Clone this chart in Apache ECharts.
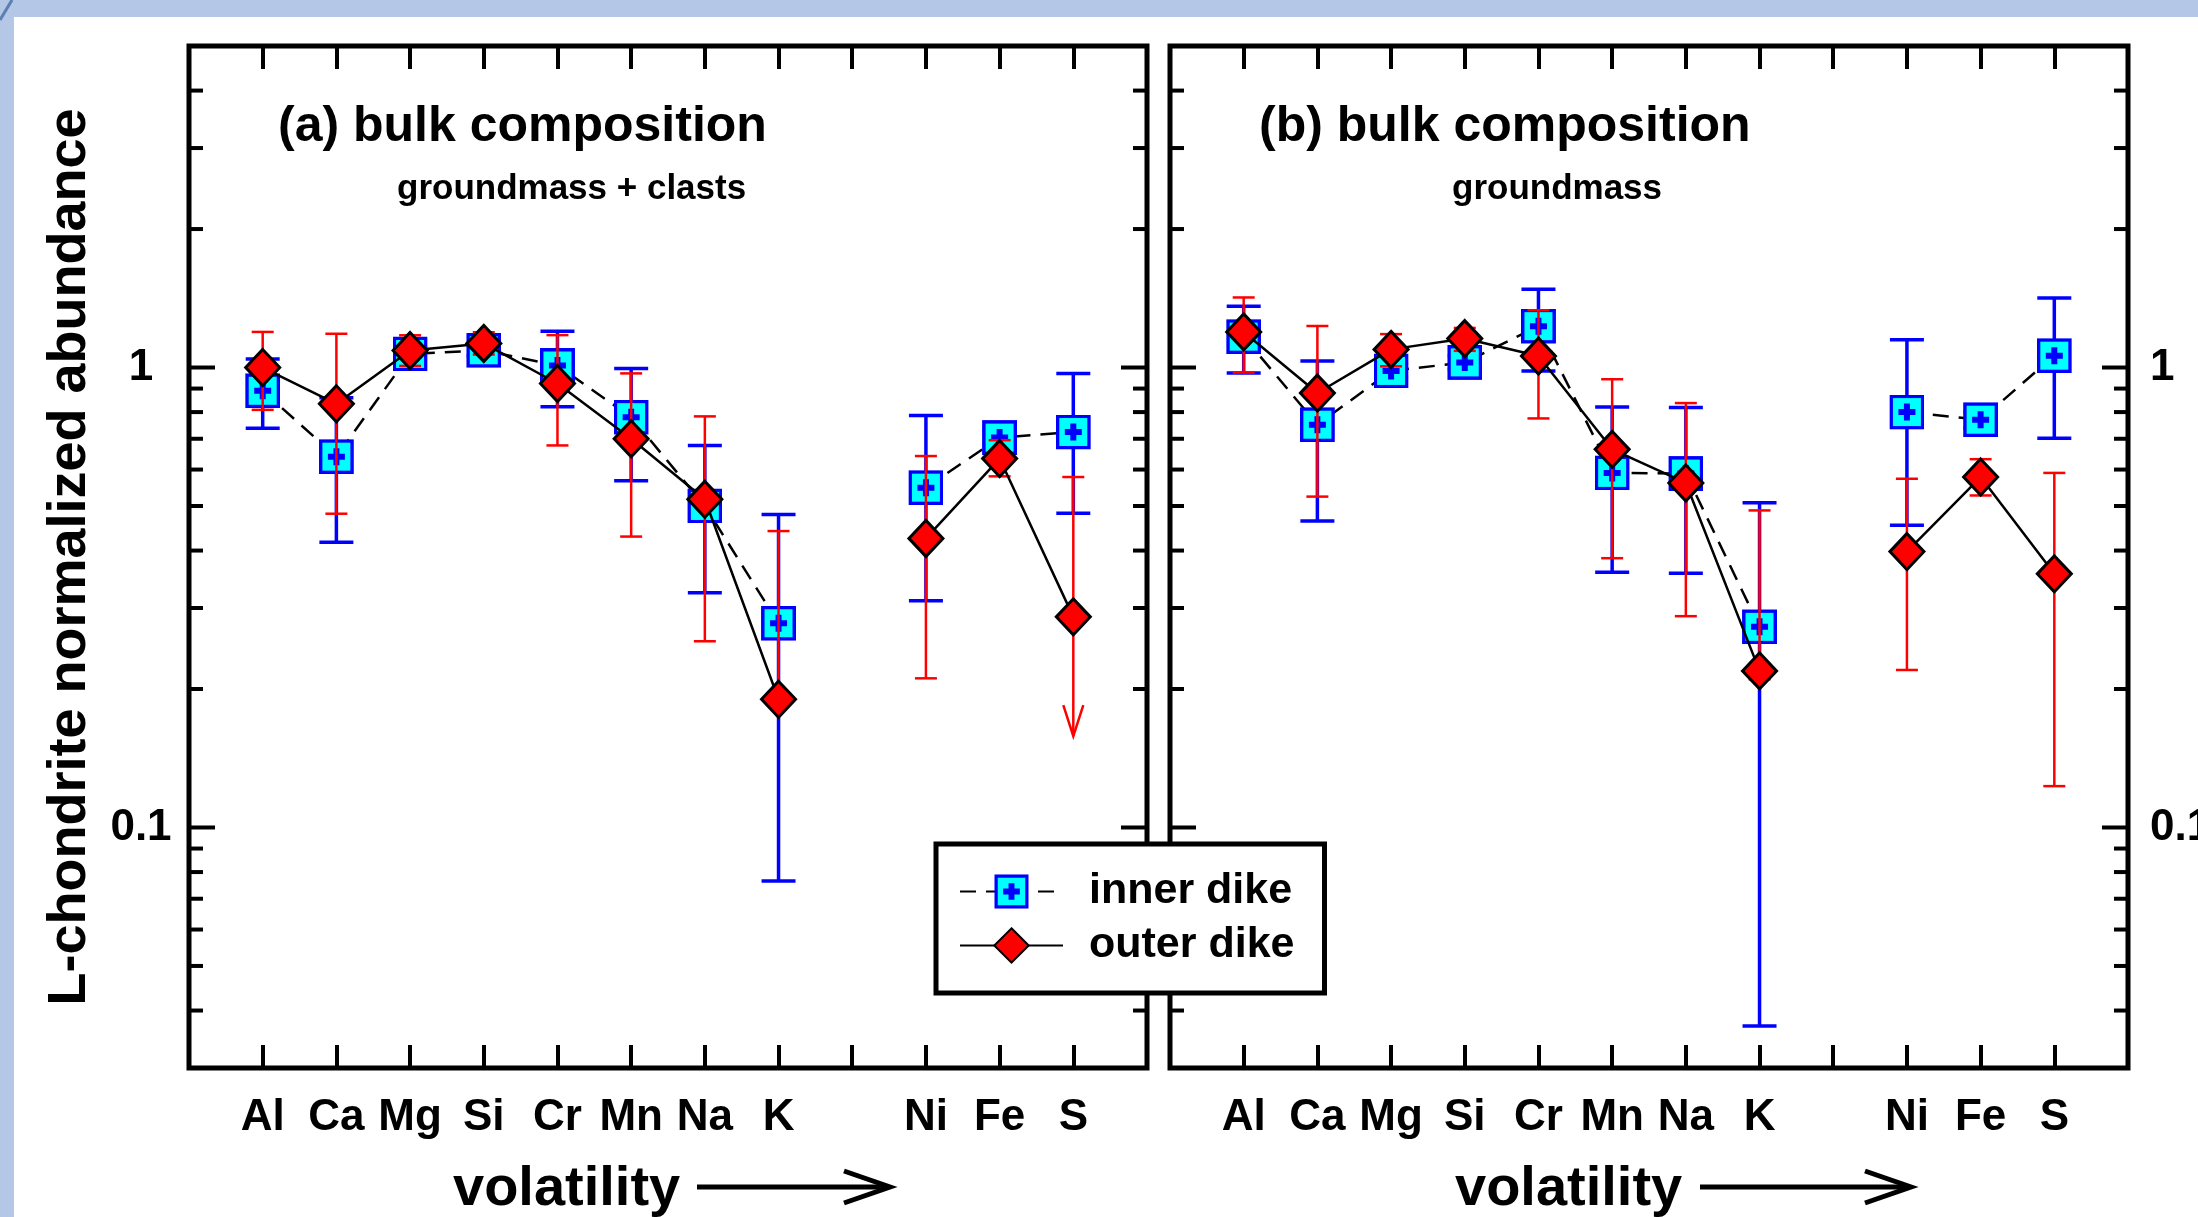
<!DOCTYPE html>
<html>
<head>
<meta charset="utf-8">
<title>L-chondrite normalized abundance</title>
<script src="https://cdn.jsdelivr.net/npm/echarts@6/dist/echarts.min.js"></script>
<style>
  html, body { margin: 0; padding: 0; background: #fff; }
  #chart { width: 2198px; height: 1217px; }
</style>
</head>
<body>
<div id="chart"></div>
<script>
// element slots along the volatility axis ('' = empty slot: edges and the gap before Ni)
var elements = ['', 'Al', 'Ca', 'Mg', 'Si', 'Cr', 'Mn', 'Na', 'K', '', 'Ni', 'Fe', 'S', ''];

// (a) groundmass + clasts
var innerA     = [null, 0.89,  0.64,  1.07, 1.09, 1.01,  0.78,  0.50,  0.278,  null, 0.548, 0.704, 0.724, null];
var innerALow  = [null, 0.738, 0.417, 1.04, 1.06, 0.822, 0.567, 0.324, 0.0765, null, 0.311, 0.68,  0.482, null];
var innerAHigh = [null, 1.043, 0.86,  1.11, 1.12, 1.199, 0.995, 0.677, 0.479,  null, 0.786, 0.73,  0.971, null];
var outerA     = [null, 1.0,   0.834, 1.089, 1.128, 0.923, 0.70,  0.517, 0.19,  null, 0.425, 0.634, 0.287, null];
var outerALow  = [null, 0.809, 0.481, 1.008, 1.067, 0.677, 0.429, 0.254, 0.185, null, 0.211, 0.58,  0.158, null];
var outerAHigh = [null, 1.195, 1.184, 1.175, 1.193, 1.176, 0.971, 0.783, 0.441, null, 0.642, 0.695, 0.578, null];
var outerAUpperLimit = ['S']; // drawn with an arrow instead of a lower cap

// (b) groundmass
var innerB     = [null, 1.167, 0.751, 0.983, 1.026, 1.23,  0.59,  0.588, 0.273, null, 0.80,  0.77, 1.061, null];
var innerBLow  = [null, 0.973, 0.464, 0.95,  0.99,  0.983, 0.359, 0.357, 0.037, null, 0.454, 0.74, 0.702, null];
var innerBHigh = [null, 1.359, 1.033, 1.02,  1.06,  1.48,  0.821, 0.819, 0.508, null, 1.149, 0.80, 1.416, null];
var outerB     = [null, 1.195, 0.88,  1.095, 1.156, 1.059, 0.664, 0.561, 0.219, null, 0.398, 0.578, 0.356, null];
var outerBLow  = [null, 0.975, 0.524, 1.006, 1.087, 0.775, 0.385, 0.288, 0.21,  null, 0.22,  0.527, 0.123, null];
var outerBHigh = [null, 1.42,  1.231, 1.182, 1.219, 1.332, 0.943, 0.837, 0.489, null, 0.573, 0.632, 0.59,  null];

var yMajorTicks = [0.1, 1];
var yMinorTicks = [0.04, 0.05, 0.06, 0.07, 0.08, 0.09, 0.2, 0.3, 0.4, 0.5, 0.6, 0.7, 0.8, 0.9, 2, 3, 4];

var fontFamily = 'Liberation Sans, Arial, Helvetica, sans-serif';

var squareSvg = "<svg xmlns='http://www.w3.org/2000/svg' width='70' height='70' viewBox='0 0 70 70'>" +
    "<rect x='3.5' y='3.5' width='63' height='63' fill='#00ffff' stroke='#0000ff' stroke-width='7'/>" +
    "<path d='M35 18V52M18 35H52' stroke='#0000ff' stroke-width='12'/></svg>";
var squareSymbol = 'image://data:image/svg+xml;base64,' + btoa(squareSvg);

function errorBarSeries(name, p, vals, lows, highs, limits, color, lineW, capW, z) {
    var data = [];
    for (var i = 0; i < elements.length; i++) {
        if (vals[i] == null) continue;
        data.push([i, lows[i], highs[i], limits.indexOf(elements[i]) >= 0 ? 1 : 0]);
    }
    return {
        type: 'custom',
        name: name,
        xAxisIndex: p * 2,
        yAxisIndex: p * 2,
        z: z,
        silent: true,
        dimensions: ['x', 'low', 'high', 'limit'],
        encode: { x: 0, y: [1, 2] },
        data: data,
        renderItem: function (params, api) {
            var hi = api.coord([api.value(0), api.value(2)]);
            var lo = api.coord([api.value(0), api.value(1)]);
            var st = { stroke: color, lineWidth: lineW, fill: null };
            var kids = [
                { type: 'line', shape: { x1: hi[0], y1: hi[1], x2: lo[0], y2: lo[1] }, style: st },
                { type: 'line', shape: { x1: hi[0] - capW / 2, y1: hi[1], x2: hi[0] + capW / 2, y2: hi[1] }, style: st }
            ];
            if (api.value(3)) {
                kids.push({ type: 'polyline', shape: { points: [[lo[0] - 10, lo[1] - 31], [lo[0], lo[1]], [lo[0] + 10, lo[1] - 31]] }, style: st });
            } else {
                kids.push({ type: 'line', shape: { x1: lo[0] - capW / 2, y1: lo[1], x2: lo[0] + capW / 2, y2: lo[1] }, style: st });
            }
            return { type: 'group', children: kids };
        }
    };
}

function yTickSeries(p) {
    var data = yMinorTicks.concat(yMajorTicks).map(function (v) { return [0, v]; });
    return {
        type: 'custom',
        xAxisIndex: p * 2,
        yAxisIndex: p * 2,
        z: 6,
        silent: true,
        clip: false,
        encode: { x: 0, y: 1 },
        data: data,
        renderItem: function (params, api) {
            var cs = params.coordSys;
            var v = api.value(1);
            var y = api.coord([0, v])[1];
            var len = yMajorTicks.indexOf(v) >= 0 ? 26 : 14;
            var st = { stroke: '#000', lineWidth: 4 };
            return {
                type: 'group',
                children: [
                    { type: 'line', shape: { x1: cs.x, y1: y, x2: cs.x + len, y2: y }, style: st },
                    { type: 'line', shape: { x1: cs.x + cs.width - len, y1: y, x2: cs.x + cs.width, y2: y }, style: st }
                ]
            };
        }
    };
}

function lineSeries(name, p, vals, inner) {
    var s = {
        type: 'line',
        name: name,
        xAxisIndex: p * 2,
        yAxisIndex: p * 2,
        data: vals,
        connectNulls: false,
        showAllSymbol: true,
        silent: true,
        emphasis: { disabled: true }
    };
    if (inner) {
        s.z = 3;
        s.symbol = squareSymbol;
        s.symbolSize = 35;
        s.lineStyle = { color: '#000', width: 2.5, type: [16, 10] };
        s.itemStyle = { color: '#00ffff' };
    } else {
        s.z = 5;
        s.symbol = 'diamond';
        s.symbolSize = [34, 36];
        s.lineStyle = { color: '#000', width: 2.5, type: 'solid' };
        s.itemStyle = { color: '#ff0000', borderColor: '#000', borderWidth: 3 };
    }
    return s;
}

function labelFormatter(v) {
    if (Math.abs(v - 1) < 1e-6) return '1';
    if (Math.abs(v - 0.1) < 1e-7) return '0.1';
    return '';
}

function yAxis(gridIndex, position, showLabel) {
    var ax = {
        type: 'log',
        logBase: 10,
        min: 0.03,
        max: 5,
        gridIndex: gridIndex,
        position: position,
        axisLine: { show: false },
        axisTick: { show: false },
        minorTick: { show: false },
        splitLine: { show: false },
        axisLabel: {
            show: showLabel,
            formatter: labelFormatter,
            fontSize: 44,
            fontWeight: 'bold',
            fontFamily: fontFamily,
            color: '#000',
            align: position === 'left' ? 'center' : 'left',
            margin: position === 'left' ? 48 : 22
        }
    };
    return ax;
}

function xAxis(gridIndex, position) {
    return {
        type: 'category',
        gridIndex: gridIndex,
        position: position,
        data: elements,
        boundaryGap: false,
        axisLine: { show: false },
        axisTick: { show: true, inside: true, length: 23, interval: 0, lineStyle: { color: '#000', width: 4 } },
        splitLine: { show: false },
        axisLabel: {
            show: position === 'bottom',
            interval: 0,
            fontSize: 44,
            fontWeight: 'bold',
            fontFamily: fontFamily,
            color: '#000',
            margin: 28
        }
    };
}

var yAxes = [yAxis(0, 'left', true), yAxis(0, 'right', false), yAxis(1, 'left', false), yAxis(1, 'right', true)];
yAxes[0].name = 'L-chondrite normalized abundance';
yAxes[0].nameLocation = 'middle';
yAxes[0].nameRotate = 90;
yAxes[0].nameGap = 92;
yAxes[0].nameTextStyle = { fontSize: 54, fontWeight: 'bold', fontFamily: fontFamily, color: '#000' };

function text(x, y, str, size) {
    return {
        type: 'text', x: x, y: y, silent: true,
        style: { text: str, fontSize: size, fontWeight: 'bold', fontFamily: fontFamily, fill: '#000', align: 'left', verticalAlign: 'middle' }
    };
}
function arrow(x1, x2, y) {
    return [
        { type: 'line', silent: true, shape: { x1: x1, y1: y, x2: x2 - 2, y2: y }, style: { stroke: '#000', lineWidth: 5 } },
        { type: 'polyline', silent: true, shape: { points: [[x2 - 46, y - 16], [x2, y], [x2 - 46, y + 16]] }, style: { stroke: '#000', lineWidth: 5, fill: null } }
    ];
}

var chart = echarts.init(document.getElementById('chart'), null, { renderer: 'canvas' });

var option = {
    backgroundColor: '#ffffff',
    animation: false,
    grid: [
        { left: 189, top: 46, width: 958, height: 1022, show: true, borderColor: '#000', borderWidth: 5, outerBoundsMode: 'none' },
        { left: 1170, top: 46, width: 958, height: 1022, show: true, borderColor: '#000', borderWidth: 5, outerBoundsMode: 'none' }
    ],
    xAxis: [xAxis(0, 'bottom'), xAxis(0, 'top'), xAxis(1, 'bottom'), xAxis(1, 'top')],
    yAxis: yAxes,
    legend: {
        data: ['inner dike', 'outer dike'],
        orient: 'vertical',
        left: 936,
        top: 844,
        padding: [26, 30, 26, 23],
        itemWidth: 103,
        itemHeight: 43,
        itemGap: 11,
        backgroundColor: '#fff',
        borderColor: '#000',
        borderWidth: 5,
        borderRadius: 0,
        selectedMode: false,
        z: 20,
        textStyle: { fontSize: 43, fontWeight: 'bold', fontFamily: fontFamily, color: '#000', padding: [0, 0, 0, 21] }
    },
    graphic: [
        { type: 'rect', silent: true, shape: { x: 0, y: 0, width: 2198, height: 17 }, style: { fill: '#b4c7e7' } },
        { type: 'rect', silent: true, shape: { x: 0, y: 0, width: 14, height: 1217 }, style: { fill: '#b4c7e7' } },
        { type: 'line', silent: true, shape: { x1: 0, y1: 20, x2: 12, y2: 0 }, style: { stroke: '#5b7fae', lineWidth: 3 } },
        text(278, 127, '(a) bulk composition', 50),
        text(397, 189, 'groundmass + clasts', 35),
        text(1259, 127, '(b) bulk composition', 50),
        text(1452, 189, 'groundmass', 35),
        text(453, 1190, 'volatility', 56),
        text(1455, 1190, 'volatility', 56)
    ].concat(arrow(697, 890, 1187), arrow(1700, 1911, 1187)),
    series: [
        errorBarSeries('inner dike error (a)', 0, innerA, innerALow, innerAHigh, [], '#0000ff', 3.5, 34, 2),
        lineSeries('inner dike', 0, innerA, true),
        errorBarSeries('outer dike error (a)', 0, outerA, outerALow, outerAHigh, outerAUpperLimit, '#ff0000', 2.5, 22, 4),
        lineSeries('outer dike', 0, outerA, false),
        yTickSeries(0),
        errorBarSeries('inner dike error (b)', 1, innerB, innerBLow, innerBHigh, [], '#0000ff', 3.5, 34, 2),
        lineSeries('inner dike', 1, innerB, true),
        errorBarSeries('outer dike error (b)', 1, outerB, outerBLow, outerBHigh, [], '#ff0000', 2.5, 22, 4),
        lineSeries('outer dike', 1, outerB, false),
        yTickSeries(1)
    ]
};

chart.setOption(option);
</script>
</body>
</html>
